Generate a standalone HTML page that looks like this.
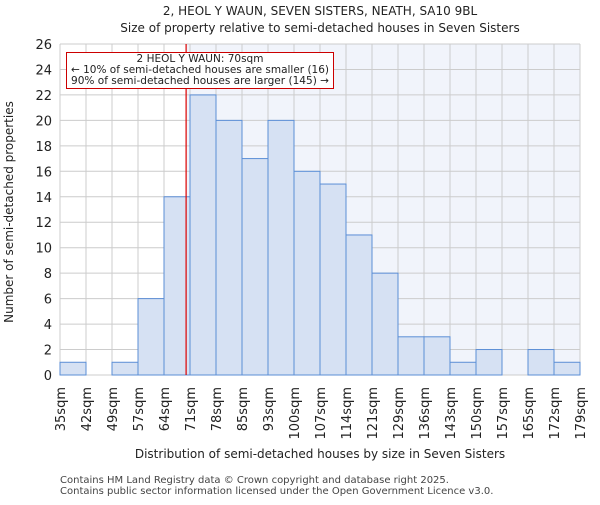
<!DOCTYPE html>
<html><head><meta charset="utf-8"><style>
body{margin:0;background:#fff;}
svg{font-family:"DejaVu Sans","Liberation Sans",sans-serif;}
</style></head><body>
<svg id="chart" width="600" height="500" viewBox="0 0 600 500" xmlns="http://www.w3.org/2000/svg">
<text x="320" y="15" text-anchor="middle" font-size="12" fill="#222">2, HEOL Y WAUN, SEVEN SISTERS, NEATH, SA10 9BL</text>
<text x="320" y="32" text-anchor="middle" font-size="12" fill="#222">Size of property relative to semi-detached houses in Seven Sisters</text>
<g id="plot"></g>
<text x="320" y="458" text-anchor="middle" font-size="12" fill="#222">Distribution of semi-detached houses by size in Seven Sisters</text>
<text transform="translate(13,212) rotate(-90)" text-anchor="middle" font-size="12" fill="#222">Number of semi-detached properties</text>
<text x="60" y="483" font-size="10" fill="#444">Contains HM Land Registry data © Crown copyright and database right 2025.</text>
<text x="60" y="494" font-size="10" fill="#444">Contains public sector information licensed under the Open Government Licence v3.0.</text>
</svg>
<script>
const binLabels=["35sqm","42sqm","49sqm","57sqm","64sqm","71sqm","78sqm","85sqm","93sqm","100sqm","107sqm","114sqm","121sqm","129sqm","136sqm","143sqm","150sqm","157sqm","165sqm","172sqm","179sqm"];
const counts=[1,0,1,6,14,22,20,17,20,16,15,11,8,3,3,1,2,0,2,1];
const yTicks=[0,2,4,6,8,10,12,14,16,18,20,22,24,26];
const markerBin=4.85;
const NS="http://www.w3.org/2000/svg";
const X0=60,X1=580,Y0=375,Y1=44,YMAX=26;
const nb=counts.length;
function xs(i){return X0+(X1-X0)*i/nb;}
function ys(v){return Y0-(Y0-Y1)*v/YMAX;}
const g=document.getElementById('plot');
function mk(t,a){const e=document.createElementNS(NS,t);for(const k in a)e.setAttribute(k,a[k]);g.appendChild(e);return e;}
const mx=xs(markerBin);
let e=mk('rect',{x:X0,y:Y1,width:X1-X0,height:Y0-Y1,fill:'#fff'});


e=mk('rect',{x:mx,y:Y1,width:X1-mx,height:Y0-Y1,fill:'#f1f4fb'});


yTicks.forEach(t=>{
 e=mk('line',{x1:X0,x2:X1,y1:ys(t),y2:ys(t),stroke:'#ccc','stroke-width':1});
 
 
 e=mk('text',{x:X0-8,y:ys(t)+5,'text-anchor':'end','font-size':13,fill:'#222'});
 e.textContent=t;
 
 
});
binLabels.forEach((l,i)=>{
 e=mk('line',{x1:xs(i),x2:xs(i),y1:Y1,y2:Y0,stroke:'#ccc','stroke-width':1});
 
 
 e=mk('text',{transform:`translate(${xs(i)+5},387) rotate(-90)`,'text-anchor':'end','font-size':13,fill:'#222'});
 e.textContent=l;
 
 
});
counts.forEach((c,i)=>{
 if(c<=0)return;
 e=mk('rect',{x:xs(i),y:ys(c),width:xs(i+1)-xs(i),height:Y0-ys(c),fill:'#d6e1f3',stroke:'#5b8ed6','stroke-width':1});
 
 
});
e=mk('line',{x1:mx,x2:mx,y1:Y1,y2:Y0,stroke:'#d00','stroke-width':1.2});


e=mk('rect',{x:66.5,y:52.5,width:267,height:36,fill:'#fff',stroke:'#c00','stroke-width':1});


const ann=["2 HEOL Y WAUN: 70sqm","← 10% of semi-detached houses are smaller (16)","90% of semi-detached houses are larger (145) →"];
ann.forEach((t,i)=>{
 e=mk('text',{x:200,y:62+i*11,'text-anchor':'middle','font-size':10.5,fill:'#222','textLength':i==0?'':'',});
 if(i>0){e.setAttribute('textLength','258');e.setAttribute('lengthAdjust','spacingAndGlyphs');}else{e.removeAttribute('textLength');}
 e.textContent=t;
 
 
});
</script>
</body></html>
